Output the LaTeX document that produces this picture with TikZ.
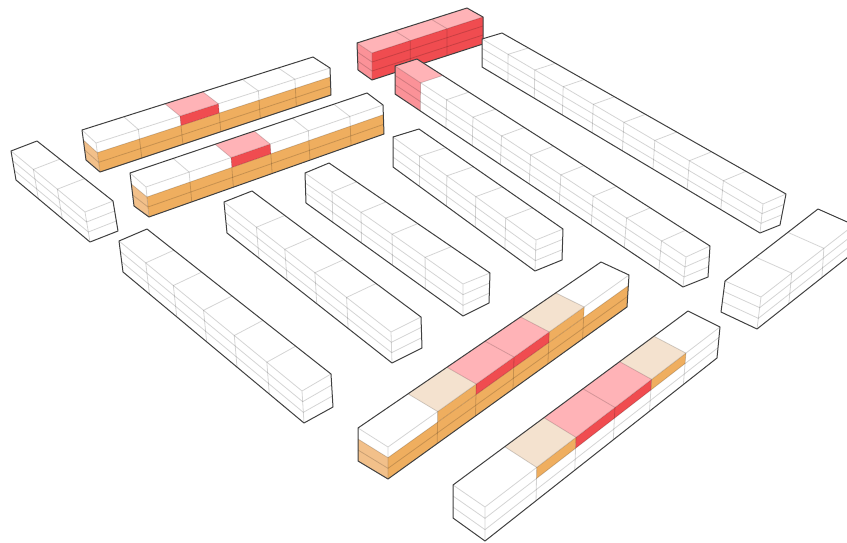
\documentclass[tikz,border=0pt]{standalone}
\usepackage{xcolor}
\usepackage{tikz}
\usetikzlibrary{calc}

\definecolor{bandorange}{HTML}{EFAE5F}
\definecolor{endpeach}{HTML}{F2C08A}
\definecolor{capbeige}{HTML}{F4E2CF}
\definecolor{cappink}{HTML}{FFB3B7}
\definecolor{bandred}{HTML}{F04C50}
\definecolor{endpink}{HTML}{FB9298}

% cuts along the long edge, then P,E,F,G on top and P,E,F below
\newcommand{\barpts}[8]{%
  \def\cuts{{#1}}%
  \pgfmathtruncatemacro\nlast{dim(\cuts)-2}%
  \coordinate (P) at (#2); \coordinate (E) at (#3);
  \coordinate (F) at (#4); \coordinate (G) at (#5);
  \coordinate (Pb) at (#6); \coordinate (Eb) at (#7); \coordinate (Fb) at (#8);
  \fill[white] (E) -- (G) -- (F) -- (Fb) -- (Pb) -- (Eb) -- cycle;
}
% cell from, cell to, colour
\newcommand{\toppatch}[3]{%
  \pgfmathsetmacro\sa{\cuts[#1]}\pgfmathsetmacro\sb{\cuts[#2+1]}%
  \fill[#3] ($(P)!\sa!(F)$) -- ($(P)!\sb!(F)$) -- ($(E)!\sb!(G)$) -- ($(E)!\sa!(G)$) -- cycle;
}
% cell from, cell to, level from, level to, colour
\newcommand{\facepatch}[5]{%
  \pgfmathsetmacro\sa{\cuts[#1]}\pgfmathsetmacro\sb{\cuts[#2+1]}%
  \coordinate (ta) at ($(P)!\sa!(F)$); \coordinate (tb) at ($(P)!\sb!(F)$);
  \coordinate (ba) at ($(Pb)!\sa!(Fb)$); \coordinate (bb) at ($(Pb)!\sb!(Fb)$);
  \fill[#5] ($(ta)!#3/3!(ba)$) -- ($(tb)!#3/3!(bb)$) -- ($(tb)!#4/3!(bb)$) -- ($(ta)!#4/3!(ba)$) -- cycle;
}
% level from, level to, colour
\newcommand{\tippatch}[3]{%
  \fill[#3] ($(P)!#1/3!(Pb)$) -- ($(E)!#1/3!(Eb)$) -- ($(E)!#2/3!(Eb)$) -- ($(P)!#2/3!(Pb)$) -- cycle;
}
\newcommand{\barframe}{%
  \draw[seam] (P) -- (E) (P) -- (F) (P) -- (Pb);
  \foreach \l in {1,2} {
    \draw[seam] ($(F)!\l/3!(Fb)$) -- ($(P)!\l/3!(Pb)$) -- ($(E)!\l/3!(Eb)$);
  }
  \foreach \i in {1,...,\nlast} {
    \pgfmathsetmacro\s{\cuts[\i]}
    \draw[seam] ($(E)!\s!(G)$) -- ($(P)!\s!(F)$) -- ($(Pb)!\s!(Fb)$);
  }
  \draw[rim] (E) -- (G) -- (F) -- (Fb) -- (Pb) -- (Eb) -- cycle;
}

\begin{document}
\begin{tikzpicture}[
    x=1pt, y=-1pt,
    seam/.style={black, opacity=0.17, line width=0.8pt},
    rim/.style={black!75, line width=1pt, line join=round},
]
\useasboundingbox (0,0) rectangle (847,543);
\clip (0,0) rectangle (847,543);

% --------- Red block (top) ----------
\barpts{0,.345,.676,1}{372,53}{357,43}{483,17}{467,8}{372,80}{358,70}{483,44}
\toppatch{0}{2}{cappink}
\facepatch{0}{2}{0}{3}{bandred}
\tippatch{0}{3}{endpink}
\barframe

% --------- Long white bars (right) ----------
\barpts{0,.141,.262,.385,.495,.604,.711,.812,.907,1}{763,204}{786,194}{482,39}{502,33}{760,233}{780,225}{482,67}
\barframe

\barpts{0,.084,.204,.319,.43,.534,.634,.732,.823,.912,1}{686,257}{710,246}{395,66}{417,59}{683,287}{708,277}{395,94}
\toppatch{9}{9}{cappink}
\facepatch{9}{9}{0}{3}{endpink}
\barframe

% --------- Orange bars (top left) ----------
\barpts{0,.181,.359,.523,.694,.85,1}{96,143}{82,130}{330,68}{313,57}{100,172}{86,160}{331,95}
\facepatch{0}{5}{1}{3}{bandorange}
\facepatch{2}{2}{0}{1}{bandred}
\toppatch{2}{2}{cappink}
\tippatch{1}{3}{endpeach}
\barframe

\barpts{0,.182,.359,.524,.685,.86,1}{146,187}{130,173}{383,105}{367,93}{149,217}{134,206}{384,134}
\facepatch{0}{5}{1}{3}{bandorange}
\facepatch{2}{2}{0}{1}{bandred}
\toppatch{2}{2}{cappink}
\tippatch{1}{3}{endpeach}
\barframe

% --------- White bars (middle) ----------
\barpts{0,.374,.698,1}{85,212}{113,201}{11,151}{37,141}{90,242}{118,231}{16,180}
\barframe

\barpts{0,.192,.37,.538,.703,.854,1}{302,391}{331,374}{119,241}{147,229}{304,423}{333,407}{123,272}
\barframe

\barpts{0,.266,.456,.636,.806,1}{391,332}{421,317}{224,202}{252,191}{392,363}{422,348}{227,233}
\barframe

\barpts{0,.24,.449,.646,.829,1}{463,284}{490,273}{305,173}{329,163}{463,316}{489,303}{306,203}
\barframe

\barpts{0,.212,.421,.623,.814,1}{536,240}{563,229}{393,137}{419,129}{535,271}{562,260}{393,167}
\barframe

% --------- Short bar (right edge) ----------
\barpts{0,.331,.676,1}{761,297}{725,281}{854,225}{818,209}{757,329}{721,312}{853,253}
\barframe

% --------- Big bars (bottom) ----------
\barpts{0,.206,.366,.523,.669,.814,1}{388,447}{358,428}{629,275}{601,262}{388,479}{358,461}{627,307}
\facepatch{0}{5}{1}{3}{bandorange}
\facepatch{1}{1}{0}{1}{bandorange}
\facepatch{4}{4}{0}{1}{bandorange}
\facepatch{2}{3}{0}{1}{bandred}
\toppatch{1}{1}{capbeige}
\toppatch{4}{4}{capbeige}
\toppatch{2}{3}{cappink}
\tippatch{1}{3}{endpeach}
\barframe

\barpts{0,.22,.387,.553,.709,.855,1}{485,507}{453,485}{720,327}{688,311}{485,541}{453,518}{717,358}
\facepatch{1}{1}{0}{1}{bandorange}
\facepatch{4}{4}{0}{1}{bandorange}
\facepatch{2}{3}{0}{1}{bandred}
\toppatch{1}{1}{capbeige}
\toppatch{4}{4}{capbeige}
\toppatch{2}{3}{cappink}
\barframe

\end{tikzpicture}
\end{document}
